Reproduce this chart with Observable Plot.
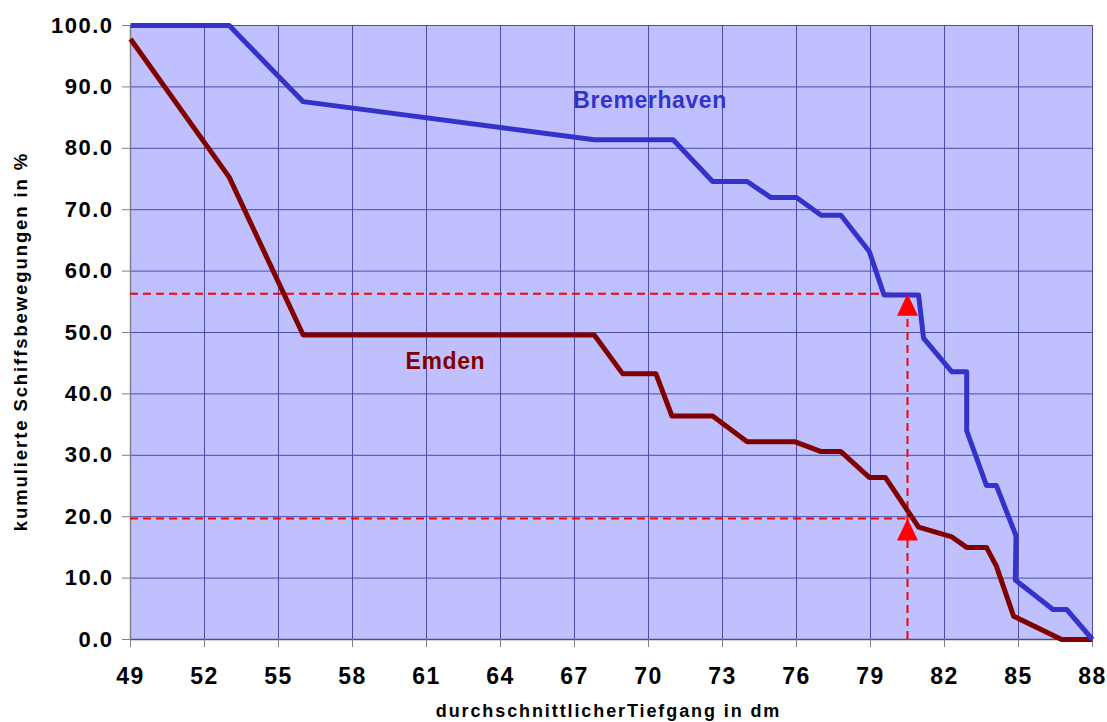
<!DOCTYPE html>
<html>
<head>
<meta charset="utf-8">
<script src="https://cdn.jsdelivr.net/npm/d3@7"></script>
<script src="https://cdn.jsdelivr.net/npm/@observablehq/plot@0.6"></script>
<style>
  html, body { margin: 0; padding: 0; background: #ffffff; }
  #chart svg { display: block; }
</style>
</head>
<body>
<div id="chart"></div>
<script>
// Cumulative ship movements (%) versus average draught (dm)
const xTicks = [49, 52, 55, 58, 61, 64, 67, 70, 73, 76, 79, 82, 85, 88];
const yTicks = [0, 10, 20, 30, 40, 50, 60, 70, 80, 90, 100];

const bremerhavenX = [49, 53, 56, 67.8, 71.0, 72.6, 74.0, 74.95, 76.0, 77.0, 77.8, 78.95, 79.55, 80.95, 81.15, 82.3, 82.9, 82.9, 83.7, 84.1, 84.9, 84.87, 86.4, 86.95, 88];
const bremerhavenY = [100, 100, 87.6, 81.4, 81.4, 74.6, 74.6, 72.0, 72.0, 69.1, 69.1, 63.2, 56.1, 56.1, 49.1, 43.6, 43.6, 34.0, 25.1, 25.1, 16.9, 9.7, 4.9, 4.9, 0];

const emdenX = [49, 53, 56, 67.8, 68.95, 70.3, 70.95, 72.6, 74.0, 75.95, 77.0, 77.8, 78.95, 79.6, 80.95, 82.3, 82.9, 83.7, 84.1, 84.8, 86.75, 88];
const emdenY = [97.8, 75.3, 49.6, 49.6, 43.3, 43.3, 36.4, 36.4, 32.2, 32.2, 30.6, 30.6, 26.4, 26.4, 18.3, 16.7, 15.0, 15.0, 12.0, 3.8, 0, 0];

// Reading lines: draught 80.5 dm against both curves
const refX = 80.5;
const refY = [56.3, 19.7];

const xTitle = "durchschnittlicherTiefgang in dm";
const yTitle = "kumulierte Schiffsbewegungen in %";
const seriesNames = ["Bremerhaven", "Emden"];

const blue = "#3333cc";
const darkRed = "#800000";
const gridColor = "#4c4caa";

const bremerhaven = bremerhavenX.map((x, i) => ({x, y: bremerhavenY[i]}));
const emden = emdenX.map((x, i) => ({x, y: emdenY[i]}));
const refPoints = refY.map(y => ({x: refX, y}));

// Upward arrowhead whose tip sits on the point
const arrowhead = {
  draw(context) {
    context.moveTo(0, 0);
    context.lineTo(10.5, 22);
    context.lineTo(-10.5, 22);
    context.closePath();
  }
};

const chart = Plot.plot({
  width: 1107,
  height: 722,
  marginLeft: 130,
  marginRight: 15,
  marginTop: 25,
  marginBottom: 83,
  style: {fontFamily: "'Liberation Sans', Arial, sans-serif", fontWeight: "bold", background: "#ffffff", color: "#000000"},
  x: {domain: [49, 88]},
  y: {domain: [0, 100]},
  marks: [
    Plot.frame({fill: "#c0c0ff", stroke: "none"}),
    Plot.ruleX(xTicks, {stroke: gridColor, strokeWidth: 1}),
    Plot.ruleY(yTicks, {stroke: gridColor, strokeWidth: 1}),
    Plot.ruleX([49], {stroke: "#808080", strokeWidth: 1.5}),
    Plot.ruleY([0], {stroke: "#505070", strokeWidth: 1.5}),
    Plot.axisX({ticks: xTicks, tickFormat: d => String(d), tickSize: 8, tickPadding: 20, fontSize: 23, stroke: "#808080", fill: "#000000", label: null}),
    Plot.axisY({ticks: yTicks, tickFormat: d3.format(".1f"), tickSize: 8, tickPadding: 9, fontSize: 22, stroke: "#808080", fill: "#000000", label: null}),
    Plot.ruleY(refY, {y: d => d, x1: 49, x2: refX, stroke: "#ff0000", strokeWidth: 2, strokeDasharray: "8,5"}),
    Plot.ruleX([refX], {y1: 0, y2: refY[0], stroke: "#ff0000", strokeWidth: 2, strokeDasharray: "8,5"}),
    Plot.line(emden, {x: "x", y: "y", stroke: darkRed, strokeWidth: 5, strokeLinejoin: "round", strokeLinecap: "butt"}),
    Plot.line(bremerhaven, {x: "x", y: "y", stroke: blue, strokeWidth: 5, strokeLinejoin: "round", strokeLinecap: "butt"}),
    Plot.dot(refPoints, {x: "x", y: "y", symbol: arrowhead, fill: "#ff0000", stroke: "none", r: 10}),
    Plot.text([seriesNames[0]], {x: 66.95, y: 87.7, text: d => d, textAnchor: "start", lineAnchor: "middle", fill: blue, fontSize: 23}),
    Plot.text([seriesNames[1]], {x: 60.15, y: 45.2, text: d => d, textAnchor: "start", lineAnchor: "middle", fill: darkRed, fontSize: 23}),
    Plot.text([xTitle], {frameAnchor: "bottom", textAnchor: "middle", lineAnchor: "middle", dx: -3, dy: 72, text: d => d, fontSize: 18, fill: "#000000"}),
    Plot.text([yTitle], {frameAnchor: "left", textAnchor: "middle", lineAnchor: "middle", dx: -109, dy: 9, rotate: -90, text: d => d, fontSize: 18.5, fill: "#000000"})
  ]
});

// Wider letter spacing for the bold labels
const svg = d3.select(chart);
svg.selectAll('g[aria-label="x-axis tick label"] text, g[aria-label="y-axis tick label"] text').style("letter-spacing", "1.5px");
svg.selectAll("text")
  .filter(function () { return this.textContent === xTitle || this.textContent === yTitle; })
  .style("letter-spacing", "1.9px");
svg.selectAll("text")
  .filter(function () { return seriesNames.includes(this.textContent); })
  .style("letter-spacing", "0.6px");

document.getElementById("chart").appendChild(chart);
</script>
</body>
</html>
